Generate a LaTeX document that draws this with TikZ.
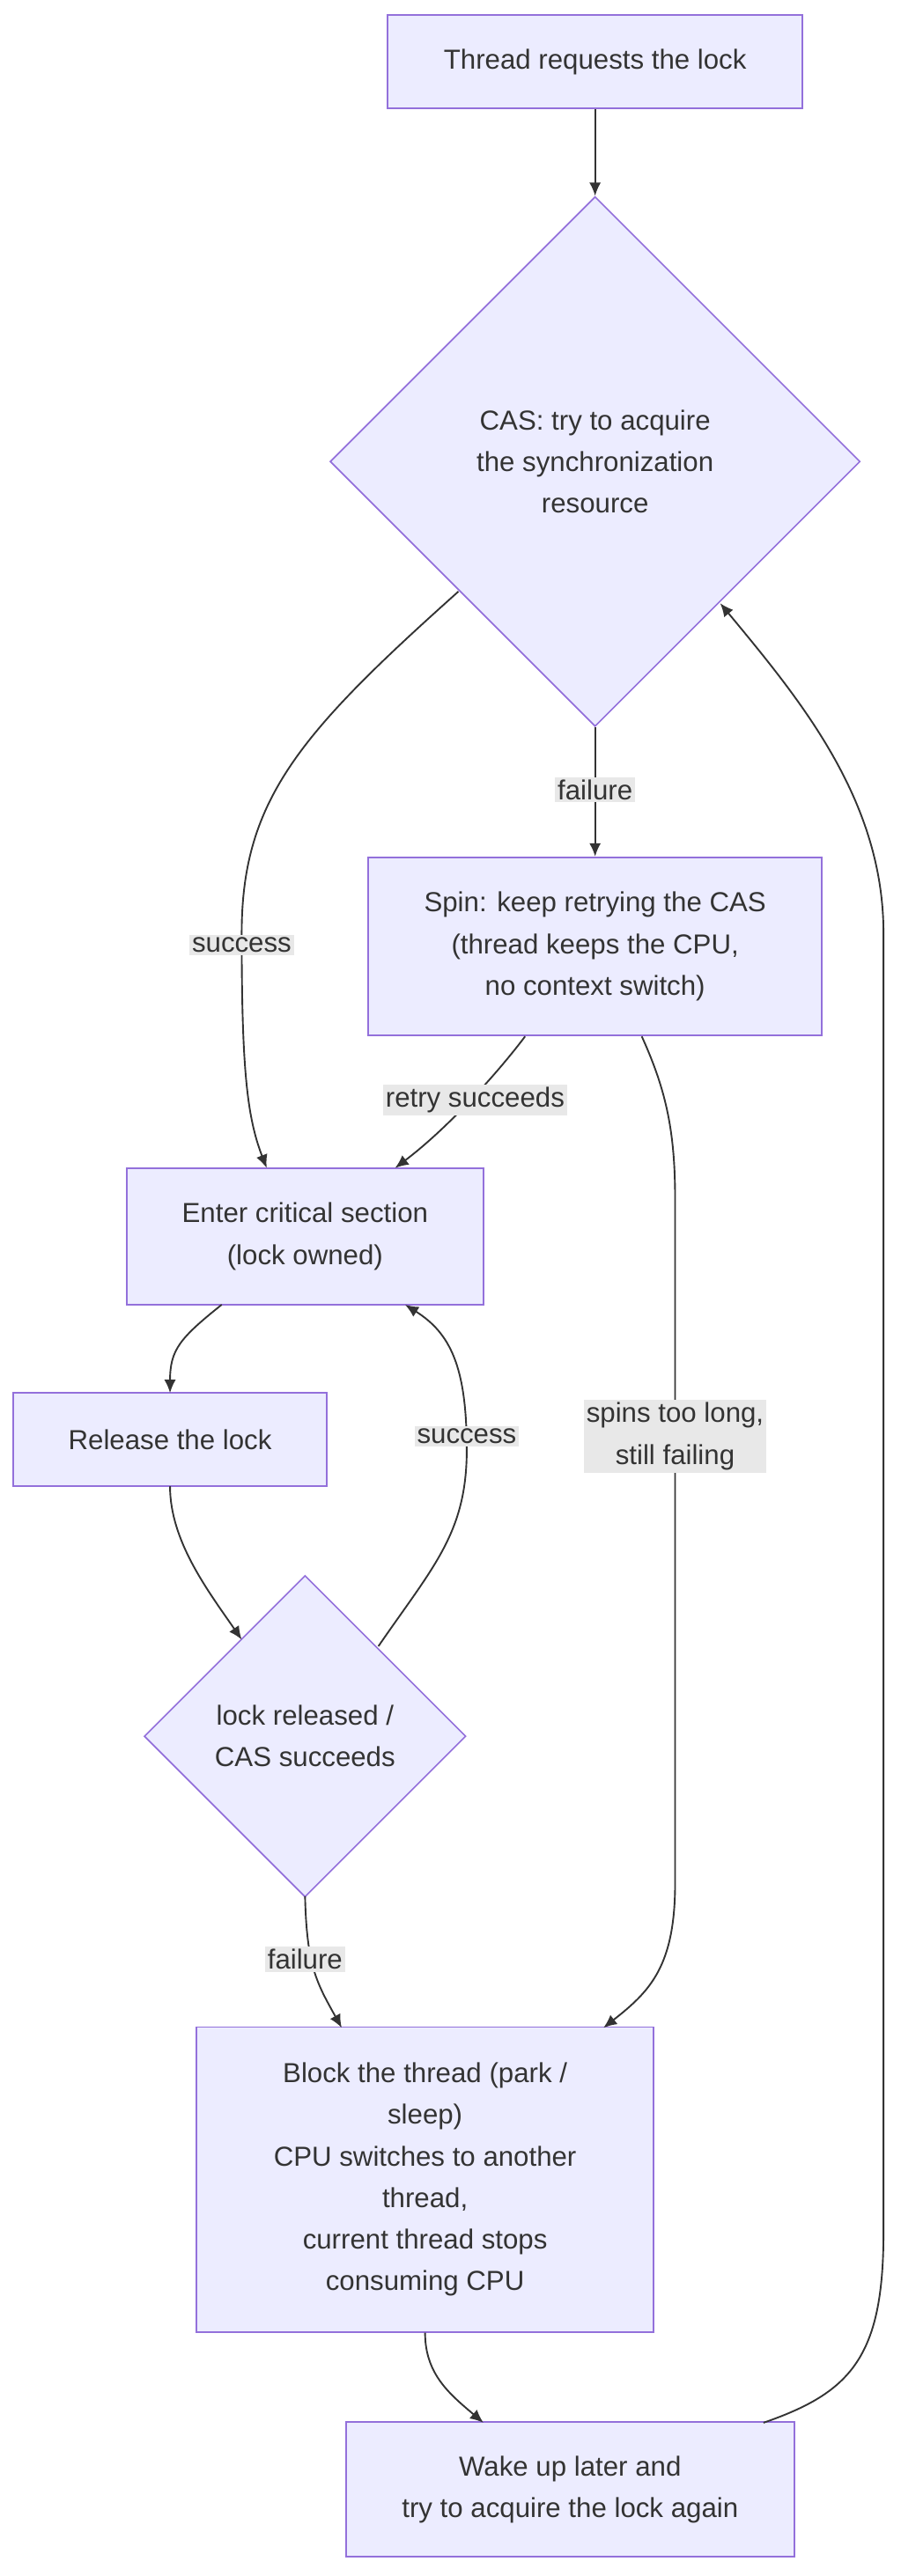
\documentclass[tikz,border=0pt]{standalone}
\usepackage{fontspec}
\setmainfont{Liberation Sans}
\usetikzlibrary{shapes.geometric,arrows.meta}
\definecolor{nfill}{HTML}{ECECFF}
\definecolor{nline}{HTML}{9370DB}
\definecolor{ecol}{HTML}{333333}
\definecolor{lbg}{HTML}{E8E8E8}
\begin{document}
\begin{tikzpicture}[x=1pt,y=-1pt,
  every node/.style={font=\fontsize{16.5}{25}\selectfont, text=ecol},
  box/.style={draw=nline, fill=nfill, line width=0.9pt, align=center, inner sep=0},
  dia/.style={draw=nline, fill=nfill, line width=0.9pt, shape=diamond, aspect=1, align=center, inner sep=0},
  edge/.style={draw=ecol, line width=1pt, -{Latex[length=8pt,width=7pt]}},
  lbl/.style={fill=lbg, inner sep=1.5pt, align=center}]
\useasboundingbox (0,0) rectangle (540,1546);
\node[box, minimum width=249, minimum height=56] (start) at (357,37) {Thread requests the lock};
\node[dia, minimum width=318, minimum height=318] (cas) at (357,277) {CAS: try to acquire\\the synchronization\\resource};
\node[box, minimum width=272, minimum height=107] (spin) at (357,568) {Spin: keep retrying the CAS\\(thread keeps the CPU,\\no context switch)};
\node[box, minimum width=214, minimum height=82] (enter) at (183,742) {Enter critical section\\(lock owned)};
\node[box, minimum width=188, minimum height=56] (rel) at (102,864) {Release the lock};
\node[dia, minimum width=193, minimum height=193] (d2) at (183,1042) {lock released /\\CAS succeeds};
\node[box, minimum width=274, minimum height=183] (block) at (255,1308) {Block the thread (park /\\sleep)\\CPU switches to another\\thread,\\current thread stops\\consuming CPU};
\node[box, minimum width=269, minimum height=81] (wake) at (342,1494) {Wake up later and\\try to acquire the lock again};

\coordinate (a1) at (275,355); \coordinate (b1) at (160,701);
\draw[edge] (start) -- (cas.north);
\draw[edge] (a1) .. controls (180,440) and (145,480) .. (145,560) .. controls (145,640) and (148,670) .. (b1);
\node[lbl] at (145,567) {success};
\draw[edge] (cas.south) -- (spin.north);
\node[lbl] at (357,474) {failure};
\coordinate (a2) at (315,622); \coordinate (b2) at (237,701);
\draw[edge] (a2) .. controls (300,642) and (270,676) .. (b2);
\node[lbl] at (285,660) {retry succeeds};
\coordinate (a3) at (385,622); \coordinate (b3) at (362,1217);
\draw[edge] (a3) .. controls (400,655) and (405,680) .. (405,720) -- (405,1130) .. controls (405,1180) and (390,1195) .. (b3);
\node[lbl] at (405,862) {spins too long,\\still failing};
\coordinate (a4) at (133,783); \coordinate (b4) at (102,836);
\draw[edge] (a4) .. controls (108,803) and (102,810) .. (b4);
\coordinate (a5) at (102,892); \coordinate (b5) at (145,984);
\draw[edge] (a5) .. controls (102,925) and (125,955) .. (b5);
\coordinate (a6) at (227,988); \coordinate (b6) at (243,783);
\draw[edge] (a6) .. controls (260,940) and (280,920) .. (280,870) .. controls (280,820) and (270,800) .. (b6);
\node[lbl] at (280,862) {success};
\coordinate (a7) at (183,1138); \coordinate (b7) at (205,1217);
\draw[edge] (a7) .. controls (184,1180) and (190,1190) .. (b7);
\node[lbl] at (183,1176) {failure};
\coordinate (a8) at (255,1400); \coordinate (b8) at (290,1454);
\draw[edge] (a8) .. controls (255,1425) and (270,1437) .. (b8);
\coordinate (a9) at (458,1454); \coordinate (b9) at (432,362);
\draw[edge] (a9) .. controls (510,1436) and (530,1415) .. (530,1340) -- (530,560) .. controls (530,480) and (480,420) .. (b9);
\end{tikzpicture}
\end{document}
